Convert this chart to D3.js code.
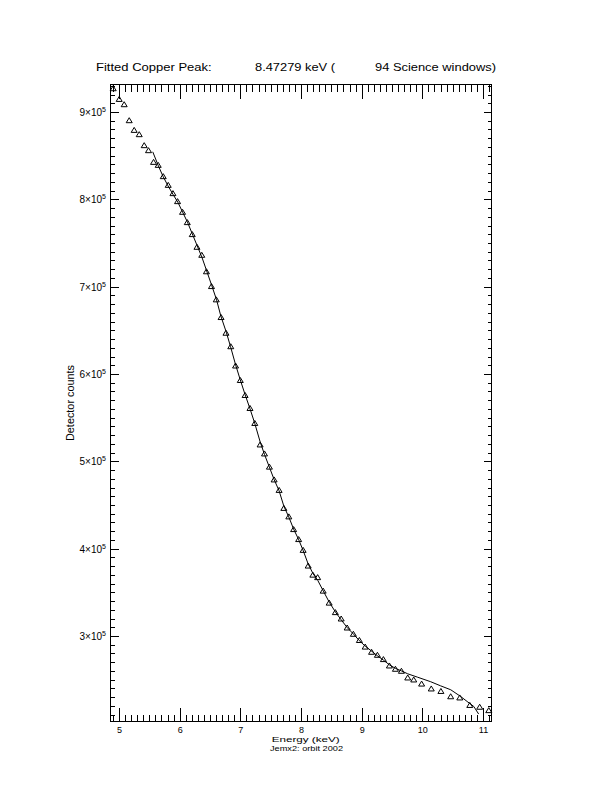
<!DOCTYPE html>
<html><head><meta charset="utf-8">
<script src="https://cdn.jsdelivr.net/npm/d3@7"></script>
<style>body{margin:0;background:#fff}svg{display:block}</style>
</head><body>
<svg id="c" width="612" height="792"></svg>
<script>
// ---- data ----
const energy = [4.896,4.995,5.077,5.160,5.242,5.325,5.407,5.478,5.561,5.638,5.721,5.803,5.881,5.957,6.039,6.117,6.199,6.277,6.356,6.433,6.516,6.595,6.674,6.755,6.834,6.913,6.991,7.070,7.151,7.230,7.318,7.390,7.471,7.549,7.631,7.709,7.791,7.870,7.953,8.027,8.110,8.187,8.266,8.357,8.456,8.558,8.654,8.753,8.855,8.954,9.050,9.155,9.251,9.350,9.449,9.548,9.647,9.751,9.850,9.980,10.139,10.298,10.459,10.609,10.774,10.937,11.087];
const counts = [927800,915560,909500,891190,880090,875170,862590,856860,843480,840050,827120,817160,807670,798510,786270,774490,760760,746230,737080,718200,701260,686040,665790,647830,632380,610300,593710,576550,561670,544510,519910,509610,494510,479860,467850,447250,437530,423000,411560,399200,381240,370830,367970,352520,338790,327920,320600,310300,303100,296000,288450,282500,279060,274140,266820,263040,260750,253090,250800,246110,240510,237650,231580,230210,221630,219570,215680];
const fitEnergy = [5.548,5.64,5.72,5.80,5.88,5.96,6.04,6.12,6.20,6.28,6.36,6.43,6.52,6.60,6.67,6.76,6.83,6.91,6.99,7.07,7.15,7.23,7.32,7.39,7.47,7.55,7.63,7.71,7.79,7.87,7.95,8.03,8.11,8.19,8.27,8.36,8.46,8.56,8.65,8.75,8.86,8.95,9.05,9.16,9.25,9.35,9.45,9.55,9.65,9.75,9.91,10.13,10.29,10.46,10.62,10.73,10.84,10.92];
const fitCounts = [855000,839000,826500,816000,806500,797500,786000,774500,761000,747500,734000,720000,702000,685500,667000,648500,632000,612000,594000,577000,561000,544000,522500,508500,494000,479500,467000,449000,437000,423000,411500,398000,383000,372000,364000,352000,339000,328000,319500,310500,302500,295500,289000,283000,278000,273000,267500,263500,260500,257300,253500,248200,243600,239000,231500,225600,219900,211200];
const xTickValues = [5,6,7,8,9,10,11];
const xTickLabels = ["5","6","7","8","9","10","11"];
const yTickValues = [300000,400000,500000,600000,700000,800000,900000];
const yTickMantissa = ["3","4","5","6","7","8","9"];
const yTickExponent = "5";
const titleParts = ["Fitted Copper Peak:", "8.47279 keV (", "94 Science windows)"];
const xTitle = "Energy (keV)";
const xSubtitle = "Jemx2: orbit 2002";
const yTitle = "Detector counts";

// ---- scales ----
const x = d3.scaleLinear().domain([4.8516, 11.1319]).range([110.5, 491.5]);
const y = d3.scaleLinear().domain([202672, 932061]).range([721.5, 84.5]);
const svg = d3.select("#c");
const font = "'Liberation Sans', Arial, sans-serif";

const xMinor = d3.range(49, 112).map(i => i / 10).filter(v => Math.abs(v - Math.round(v)) > 1e-6);
const yMinor = d3.range(21, 94).map(i => i * 10000).filter(v => v % 100000 !== 0);

function addAxis(axis, tx, ty) {
  const g = svg.append("g").attr("transform", `translate(${tx},${ty})`).call(axis);
  g.select(".domain").remove();
  g.selectAll("text").remove();
  g.selectAll("line").attr("stroke", "#000").attr("shape-rendering", "crispEdges");
  return g;
}
// bottom / top
addAxis(d3.axisBottom(x).tickValues(xTickValues).tickSize(-14).offset(0), 0, 721.5);
addAxis(d3.axisBottom(x).tickValues(xMinor).tickSize(-7).offset(0), 0, 721.5);
addAxis(d3.axisTop(x).tickValues(xTickValues).tickSize(-14).offset(0), 0, 84.5);
addAxis(d3.axisTop(x).tickValues(xMinor).tickSize(-7).offset(0), 0, 84.5);
// left / right
addAxis(d3.axisLeft(y).tickValues(yTickValues).tickSize(-8).offset(0), 110.5, 0);
addAxis(d3.axisLeft(y).tickValues(yMinor).tickSize(-4).offset(0), 110.5, 0);
addAxis(d3.axisRight(y).tickValues(yTickValues).tickSize(-8).offset(0), 491.5, 0);
addAxis(d3.axisRight(y).tickValues(yMinor).tickSize(-4).offset(0), 491.5, 0);

// frame
svg.append("rect").attr("x", 110.5).attr("y", 84.5).attr("width", 381).attr("height", 637)
  .attr("fill", "none").attr("stroke", "#000").attr("shape-rendering", "crispEdges");

// x tick labels
svg.append("g").selectAll("text").data(xTickValues).join("text")
  .attr("x", d => x(d)).attr("y", 732.5)
  .attr("text-anchor", "middle").attr("font-family", font).attr("font-size", 9)
  .text((d, i) => xTickLabels[i]);

// y tick labels
const yl = svg.append("g").selectAll("text").data(yTickValues).join("text")
  .attr("x", 106).attr("y", d => y(d) + 3.5)
  .attr("text-anchor", "end").attr("font-family", font).attr("font-size", 10);
yl.append("tspan").text((d, i) => yTickMantissa[i] + "\u00d710");
yl.append("tspan").attr("font-size", 7).attr("dy", -4).text(yTickExponent);

// titles
const titleX = [96, 255, 375];
const titleW = [115.7, 80, 121];
svg.append("g").selectAll("text").data(titleParts).join("text")
  .attr("x", (d, i) => titleX[i]).attr("y", 71)
  .attr("font-family", font).attr("font-size", 10.5)
  .attr("textLength", (d, i) => titleW[i]).attr("lengthAdjust", "spacingAndGlyphs")
  .text(d => d);

svg.append("text").attr("x", 271.7).attr("y", 741.8)
  .attr("font-family", font).attr("font-size", 8)
  .attr("textLength", 68).attr("lengthAdjust", "spacingAndGlyphs").text(xTitle);
svg.append("text").attr("x", 270).attr("y", 750.8)
  .attr("font-family", font).attr("font-size", 8)
  .attr("textLength", 73).attr("lengthAdjust", "spacingAndGlyphs").text(xSubtitle);

svg.append("text").attr("transform", "translate(74,441) rotate(-90)")
  .attr("font-family", font).attr("font-size", 10)
  .attr("textLength", 76).attr("lengthAdjust", "spacingAndGlyphs").text(yTitle);

// fit line
const fitData = fitEnergy.map((e, i) => [e, fitCounts[i]]);
svg.append("path").datum(fitData)
  .attr("d", d3.line().x(d => x(d[0])).y(d => y(d[1])))
  .attr("fill", "none").attr("stroke", "#000").attr("stroke-width", 1);

// data triangles
const tri = "M0,-2.5L3,2.5L-3,2.5Z";
svg.append("g").selectAll("path").data(energy.map((e, i) => [e, counts[i]])).join("path")
  .attr("transform", d => `translate(${x(d[0])},${y(d[1])})`)
  .attr("d", tri).attr("fill", "none").attr("stroke", "#000").attr("stroke-width", 1);
</script>
</body></html>
